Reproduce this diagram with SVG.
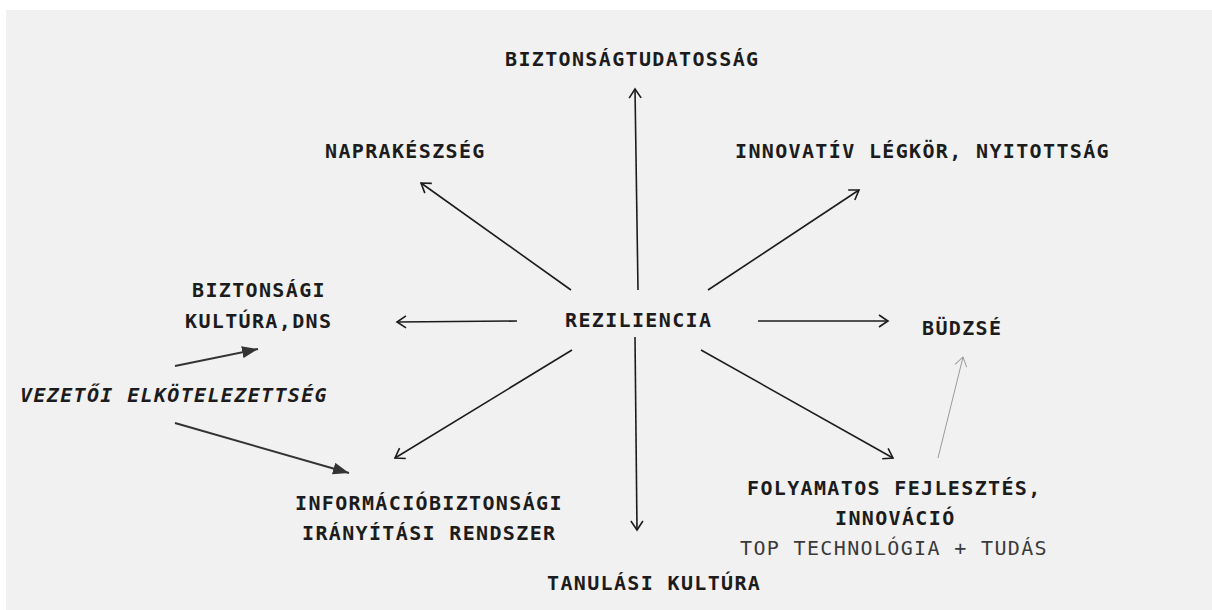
<svg xmlns="http://www.w3.org/2000/svg" width="1212" height="610" viewBox="0 0 1212 610">
<style>
.t{font-family:"DejaVu Sans Mono","Liberation Mono",monospace;font-size:20px;font-weight:bold;letter-spacing:1.35px;fill:#1c1c1c}
.i{font-style:italic}
.r{font-weight:normal;fill:#3a3a3a}
.c{fill:none;stroke:#1c1c1c;stroke-width:1.6}
.g{fill:none;stroke:#9a9a9a;stroke-width:1}
.f{fill:none;stroke:#333;stroke-width:2}
</style>
<defs>
<marker id="open" markerUnits="userSpaceOnUse" markerWidth="14" markerHeight="16" refX="10" refY="7" orient="auto">
<path d="M1,1 L10,7 L1,13" fill="none" stroke="#1c1c1c" stroke-width="1.6"/>
</marker>
<marker id="openg" markerUnits="userSpaceOnUse" markerWidth="14" markerHeight="16" refX="10" refY="7" orient="auto">
<path d="M1,1 L10,7 L1,13" fill="none" stroke="#9a9a9a" stroke-width="1"/>
</marker>
<marker id="fill" markerUnits="userSpaceOnUse" markerWidth="18" markerHeight="12" refX="16" refY="6" orient="auto">
<path d="M0,0 L16,6 L0,12 Z" fill="#333"/>
</marker>
</defs>
<rect x="6" y="10" width="1206" height="600" fill="#f1f1f1"/>
<g id="connectors">
<line class="c" x1="638" y1="290" x2="635" y2="89" marker-end="url(#open)"/>
<line class="c" x1="571" y1="290" x2="421" y2="183" marker-end="url(#open)"/>
<line class="c" x1="708" y1="290" x2="859" y2="190" marker-end="url(#open)"/>
<line class="c" x1="517" y1="321" x2="397" y2="322" marker-end="url(#open)"/>
<line class="c" x1="758" y1="321" x2="888" y2="321" marker-end="url(#open)"/>
<line class="c" x1="572" y1="350" x2="395" y2="458" marker-end="url(#open)"/>
<line class="c" x1="635" y1="337" x2="637" y2="530" marker-end="url(#open)"/>
<line class="c" x1="701" y1="350" x2="893" y2="458" marker-end="url(#open)"/>
<line class="g" x1="938" y1="458" x2="963" y2="357" marker-end="url(#openg)"/>
<line class="f" x1="175" y1="366" x2="258" y2="349" marker-end="url(#fill)"/>
<line class="f" x1="175" y1="423" x2="349" y2="473" marker-end="url(#fill)"/>
</g>
<g id="reziliencia"><text class="t" x="565" y="327">REZILIENCIA</text></g>
<g id="biztonsagtudatossag"><text class="t" x="505" y="66">BIZTONSÁGTUDATOSSÁG</text></g>
<g id="naprakeszseg"><text class="t" x="325" y="158">NAPRAKÉSZSÉG</text></g>
<g id="innovativ"><text class="t" x="735" y="158">INNOVATÍV LÉGKÖR, NYITOTTSÁG</text></g>
<g id="biztonsagi-kultura"><text class="t" x="192" y="297">BIZTONSÁGI</text><text class="t" x="185" y="328">KULTÚRA,DNS</text></g>
<g id="budzse"><text class="t" x="922" y="335">BÜDZSÉ</text></g>
<g id="vezetoi"><text class="t i" x="20" y="402">VEZETŐI ELKÖTELEZETTSÉG</text></g>
<g id="ibir"><text class="t" x="295" y="510">INFORMÁCIÓBIZTONSÁGI</text><text class="t" x="302" y="540">IRÁNYÍTÁSI RENDSZER</text></g>
<g id="folyamatos"><text class="t" x="747" y="495">FOLYAMATOS FEJLESZTÉS,</text><text class="t" x="835" y="525">INNOVÁCIÓ</text><text class="t r" x="740" y="555">TOP TECHNOLÓGIA + TUDÁS</text></g>
<g id="tanulasi"><text class="t" x="547" y="590">TANULÁSI KULTÚRA</text></g>
</svg>
